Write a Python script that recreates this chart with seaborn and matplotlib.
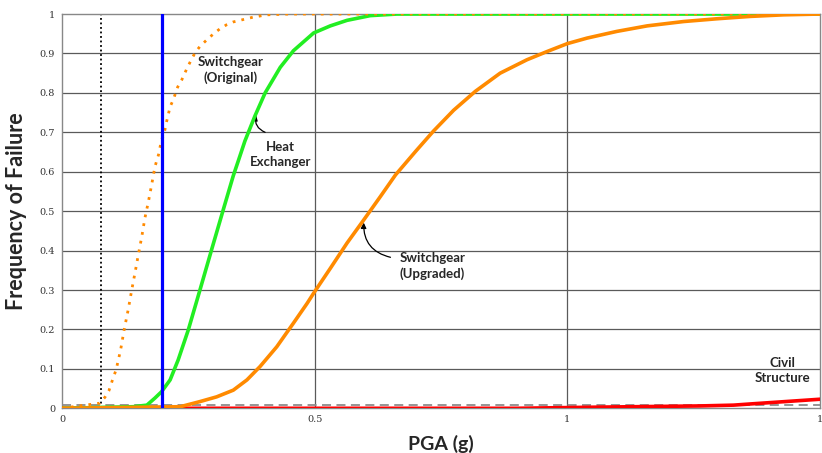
import numpy as np
import pandas as pd
import matplotlib
matplotlib.use("Agg")
import matplotlib.pyplot as plt
import seaborn as sns

# values
sg_orig_x = [0.0, 0.075, 0.085, 0.093, 0.102, 0.107, 0.116, 0.123, 0.131, 0.138, 0.145, 0.151,
             0.158, 0.164, 0.171, 0.178, 0.184, 0.191, 0.197, 0.202, 0.207, 0.214, 0.220, 0.229,
             0.237, 0.249, 0.263, 0.273, 0.287, 0.300, 0.313, 0.326, 0.339, 0.378, 0.405, 0.45, 1.5]
sg_orig_y = [0.0, 0.013, 0.028, 0.045, 0.080, 0.097, 0.148, 0.199, 0.250, 0.300, 0.347, 0.389,
             0.436, 0.482, 0.524, 0.571, 0.613, 0.643, 0.681, 0.696, 0.727, 0.765, 0.782, 0.815,
             0.833, 0.867, 0.901, 0.918, 0.935, 0.950, 0.963, 0.973, 0.980, 0.992, 0.998, 1.0, 1.0]

hx_x = [0.0, 0.141, 0.168, 0.184, 0.197, 0.214, 0.230, 0.250, 0.273, 0.296, 0.319, 0.339, 0.349,
        0.362, 0.382, 0.402, 0.432, 0.458, 0.498, 0.531, 0.564, 0.610, 0.663, 1.5]
hx_y = [0.0, 0.004, 0.008, 0.026, 0.042, 0.072, 0.123, 0.199, 0.300, 0.402, 0.503, 0.590, 0.628,
        0.678, 0.742, 0.800, 0.865, 0.907, 0.952, 0.970, 0.984, 0.996, 1.0, 1.0]

sg_upg_x = [0.0, 0.234, 0.273, 0.306, 0.339, 0.366, 0.392, 0.425, 0.458, 0.485, 0.498, 0.531,
            0.564, 0.595, 0.630, 0.660, 0.700, 0.735, 0.775, 0.818, 0.867, 0.920, 0.960, 1.0,
            1.039, 1.098, 1.158, 1.230, 1.296, 1.362, 1.428, 1.5]
sg_upg_y = [0.0, 0.004, 0.017, 0.029, 0.046, 0.072, 0.106, 0.156, 0.216, 0.266, 0.292, 0.355,
            0.419, 0.474, 0.537, 0.592, 0.652, 0.703, 0.756, 0.804, 0.850, 0.884, 0.905, 0.925,
            0.939, 0.956, 0.970, 0.981, 0.988, 0.994, 0.998, 1.0]

civil_x = [0.0, 0.9, 1.065, 1.263, 1.329, 1.362, 1.5]
civil_y = [0.0, 0.0, 0.003, 0.006, 0.008, 0.011, 0.023]

pga_site = 0.197       # blue vertical line
pga_low = 0.077        # black dotted vertical line
freq_limit = 0.009     # grey dashed horizontal line

x_ticks = [0, 0.5, 1, 1.5]
x_tick_labels = ["0", "0.5", "1", "1"]
y_ticks = [0, 0.1, 0.2, 0.3, 0.4, 0.5, 0.6, 0.7, 0.8, 0.9, 1.0]
y_tick_labels = ["0", "0.1", "0.2", "0.3", "0.4", "0.5", "0.6", "0.7", "0.8", "0.9", "1"]

sns.set_style("white")
plt.rcParams["font.family"] = ["Lato", "DejaVu Sans"]

fig = plt.figure(figsize=(8.22, 4.53), dpi=100)
ax = fig.add_axes([0.0754, 0.0987, 0.9222, 0.8703])

grid_kw = dict(color="#5a5a5a", lw=0.9, zorder=0)
for yv in y_ticks[1:-1]:
    ax.axhline(yv, **grid_kw)
for xv in [0.5, 1.0]:
    ax.axvline(xv, **grid_kw)

ax.axhline(freq_limit, color="#8c8c8c", lw=1.3, ls=(0, (5, 3)), zorder=1)
ax.axvline(pga_low, color="black", lw=1.3, ls=(0, (1, 1.5)), zorder=2)

sns.lineplot(x=civil_x, y=civil_y, ax=ax, color="#ff0000", lw=2.6, zorder=3)
sns.lineplot(x=hx_x, y=hx_y, ax=ax, color="#22ee22", lw=2.6, zorder=4)
sns.lineplot(x=sg_upg_x, y=sg_upg_y, ax=ax, color="#ff8a00", lw=2.6, zorder=5)
sns.lineplot(x=sg_orig_x, y=sg_orig_y, ax=ax, color="#ff8a00", lw=2.0,
             ls=(0, (1, 2.2)), zorder=6)
ax.axvline(pga_site, color="#0000ff", lw=2.3, zorder=7)

ax.set_xlim(0, 1.5)
ax.set_ylim(0, 1)
ax.set_xticks(x_ticks)
ax.set_xticklabels(x_tick_labels)
ax.set_yticks(y_ticks)
ax.set_yticklabels(y_tick_labels)
ax.tick_params(axis="both", length=3, width=0.8, color="#666666", labelsize=7,
               labelcolor="#333333", pad=2, direction="out")
for lab in ax.get_xticklabels() + ax.get_yticklabels():
    lab.set_family("DejaVu Serif")
for sp in ax.spines.values():
    sp.set_color("#888888")
    sp.set_linewidth(1.0)

ax.set_xlabel("PGA (g)", fontsize=14, fontweight="bold", labelpad=8)
ax.set_ylabel("Frequency of Failure", fontsize=15.5, fontweight="bold", labelpad=9)

txt = dict(fontsize=9.5, fontweight="bold", ha="center", va="center", linespacing=1.3, zorder=8)
ax.text(0.333, 0.859, "Switchgear\n(Original)", **txt)
ax.text(1.426, 0.097, "Civil\nStructure", **txt)

arrow = dict(arrowstyle="-|>", color="black", lw=0.9, mutation_scale=8,
             connectionstyle="arc3,rad=-0.4", shrinkA=0, shrinkB=0)
ax.annotate("Heat\nExchanger", xy=(0.384, 0.744), xytext=(0.432, 0.645), **txt)
ax.annotate("", xy=(0.384, 0.744), xytext=(0.402, 0.700), arrowprops=arrow)
ax.annotate("Switchgear\n(Upgraded)", xy=(0.597, 0.471), xytext=(0.733, 0.361), **txt)
ax.annotate("", xy=(0.597, 0.471), xytext=(0.650, 0.383), arrowprops=arrow)

fig.savefig("out.png", dpi=100)
